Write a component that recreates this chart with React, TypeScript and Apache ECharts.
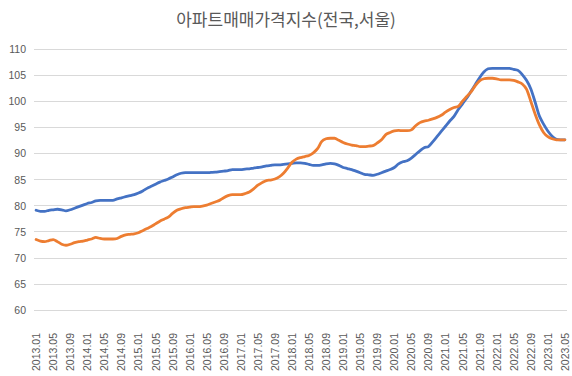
import React, { useEffect, useRef } from "react";
import * as echarts from "echarts";

const title = "아파트매매가격지수(전국,서울)";
const seriesNames = ["전국", "서울"];

const startYear = 2013;
const monthCount = 125; // 2013.01 ~ 2023.05
const categories: string[] = [];
for (let i = 0; i < monthCount; i++) {
  const y = startYear + Math.floor(i / 12);
  const m = (i % 12) + 1;
  categories.push(`${y}.${m < 10 ? "0" + m : m}`);
}

const national = [
  79.1, 78.9, 78.9, 79.1, 79.2, 79.3, 79.2, 79.0, 79.2, 79.5, 79.8, 80.1,
  80.4, 80.6, 80.9, 81.0, 81.0, 81.0, 81.0, 81.3, 81.5, 81.7, 81.9, 82.1,
  82.4, 82.8, 83.3, 83.7, 84.1, 84.5, 84.8, 85.1, 85.5, 85.9, 86.2, 86.3,
  86.3, 86.3, 86.3, 86.3, 86.3, 86.35, 86.4, 86.5, 86.6, 86.7, 86.9, 86.9,
  86.9, 87.0, 87.05, 87.2, 87.3, 87.4, 87.6, 87.7, 87.8, 87.8, 87.9, 88.0,
  88.1, 88.2, 88.2, 88.1, 87.9, 87.7, 87.7, 87.8, 88.0, 88.1, 88.0, 87.7,
  87.3, 87.1, 86.9, 86.6, 86.3, 86.0, 85.9, 85.8, 86.0, 86.3, 86.6, 86.9,
  87.3, 88.0, 88.4, 88.6, 89.1, 89.8, 90.5, 91.1, 91.3, 92.2, 93.2, 94.2,
  95.2, 96.2, 97.1, 98.4, 99.5, 100.6, 101.9, 103.2, 104.5, 105.6, 106.2, 106.3,
  106.3, 106.3, 106.3, 106.3, 106.1, 105.9, 105.1, 104.0, 102.4, 99.9, 97.2, 95.6,
  94.3, 93.3, 92.7, 92.6, 92.6,
];

const seoul = [
  73.5, 73.2, 73.1, 73.3, 73.5, 73.1, 72.6, 72.4, 72.6, 72.9, 73.1, 73.2,
  73.4, 73.6, 73.9, 73.7, 73.6, 73.6, 73.6, 73.7, 74.1, 74.4, 74.5, 74.6,
  74.8, 75.2, 75.6, 76.0, 76.5, 77.0, 77.4, 77.8, 78.5, 79.1, 79.4, 79.6,
  79.7, 79.8, 79.8, 79.9, 80.1, 80.4, 80.7, 81.0, 81.5, 81.9, 82.1, 82.1,
  82.1, 82.3, 82.6, 83.2, 83.9, 84.4, 84.8, 84.9, 85.1, 85.5, 86.2, 87.2,
  88.3, 88.9, 89.2, 89.4, 89.6, 90.1, 90.9, 92.3, 92.8, 92.9, 92.9, 92.5,
  92.1, 91.8, 91.6, 91.5, 91.3, 91.3, 91.4, 91.5, 92.0, 92.6, 93.6, 94.0,
  94.3, 94.4, 94.35, 94.35, 94.5, 95.3, 95.9, 96.2, 96.35, 96.6, 96.9, 97.3,
  97.9, 98.4, 98.8, 99.0, 100.0, 100.9, 101.8, 103.0, 103.9, 104.3, 104.4, 104.4,
  104.3, 104.1, 104.1, 104.1, 104.0, 103.7, 103.3, 102.3, 100.0, 97.6, 95.5, 94.0,
  93.2, 92.8, 92.6, 92.6, 92.6,
];

const yMin = 60;
const yMax = 110;
const yStep = 5;

export default function App() {
  const ref = useRef<HTMLDivElement>(null);
  useEffect(() => {
    if (!ref.current) return;
    const chart = echarts.init(ref.current, null, { renderer: "svg" });
    const font = "'Liberation Sans', Arial, sans-serif";
    chart.setOption({
      animation: false,
      backgroundColor: "#ffffff",
      title: {
        text: title,
        left: "center",
        top: 5,
        textStyle: {
          fontFamily: "'Noto Sans CJK KR', sans-serif",
          fontSize: 17,
          fontWeight: "normal",
          color: "#595959",
        },
      },
      grid: { left: 34, right: 5, top: 49, bottom: 66 },
      xAxis: {
        type: "category",
        data: categories,
        boundaryGap: true,
        axisLine: { show: false },
        axisTick: { show: false },
        axisLabel: {
          interval: 3,
          rotate: 90,
          margin: 23,
          fontSize: 10.5,
          fontFamily: font,
          color: "#595959",
        },
        splitLine: { show: false },
      },
      yAxis: {
        type: "value",
        min: yMin,
        max: yMax,
        interval: yStep,
        axisLine: { show: false },
        axisTick: { show: false },
        axisLabel: {
          fontSize: 10.5,
          fontFamily: font,
          color: "#595959",
          margin: 8,
        },
        splitLine: { lineStyle: { color: "#d9d9d9", width: 1 } },
      },
      series: [
        {
          name: seriesNames[0],
          type: "line",
          data: national,
          smooth: 0.3,
          showSymbol: false,
          lineStyle: { color: "#4472C4", width: 2.8, cap: "round", join: "round" },
          itemStyle: { color: "#4472C4" },
        },
        {
          name: seriesNames[1],
          type: "line",
          data: seoul,
          smooth: 0.3,
          showSymbol: false,
          lineStyle: { color: "#ED7D31", width: 2.8, cap: "round", join: "round" },
          itemStyle: { color: "#ED7D31" },
        },
      ],
    });
    return () => chart.dispose();
  }, []);
  return <div ref={ref} style={{ width: 572, height: 376, position: "absolute", left: 0, top: 0 }} />;
}
